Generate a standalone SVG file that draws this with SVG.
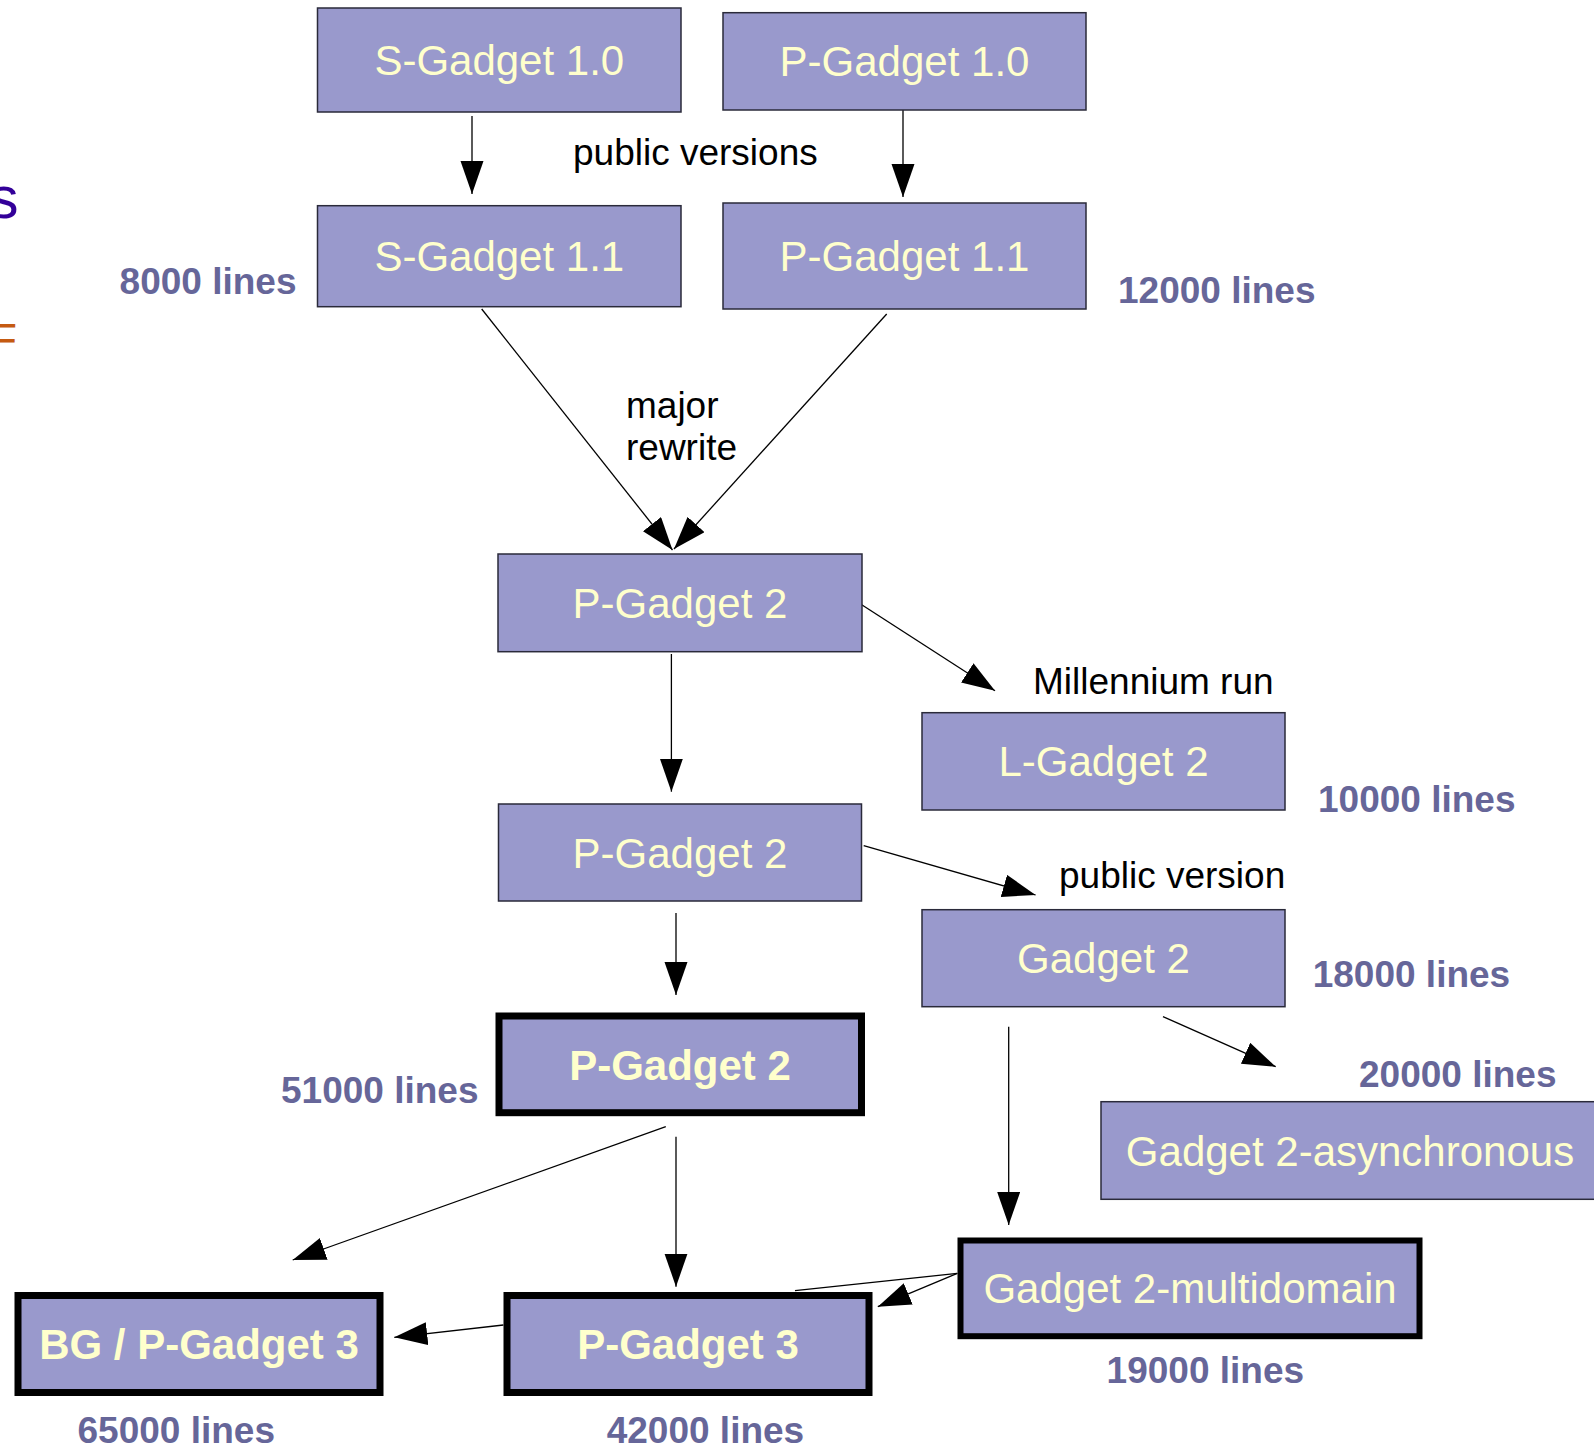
<svg xmlns="http://www.w3.org/2000/svg" width="1594" height="1447" viewBox="0 0 1594 1447">
<style>
text{font-family:"Liberation Sans",Arial,sans-serif}
.box{fill:#9999cc;stroke:#2a2a3a;stroke-width:1.5}
.thick{fill:#9999cc;stroke:#000;stroke-width:7}
.lbl{fill:#ffffcc;font-size:42px;text-anchor:middle}
.blbl{fill:#ffffcc;font-size:42px;font-weight:bold;text-anchor:middle}
.cnt{fill:#666699;font-size:37px;font-weight:bold}
.note{fill:#000;font-size:37px}
.con line{stroke:#000;stroke-width:1.3;fill:none}
.arr{marker-end:url(#ah)}
</style>
<defs>
<marker id="ah" markerUnits="userSpaceOnUse" markerWidth="34" markerHeight="24" refX="33" refY="11.5" orient="auto" viewBox="0 0 34 24">
<path d="M0,0 L33,11.5 L0,23 z" fill="#000"/>
</marker>
</defs>
<g id="title-fragments">
<text x="-11" y="218" style="font-size:59px;fill:#330099">s</text>
<text x="-10.4" y="355" style="font-size:45px;fill:#c55a11">F</text>
</g>
<g class="con" id="connectors">
<line class="arr" x1="472" y1="116" x2="472" y2="194"/>
<line class="arr" x1="903" y1="110" x2="903" y2="197"/>
<line class="arr" x1="481.7" y1="309" x2="672.5" y2="550"/>
<line class="arr" x1="886.7" y1="314" x2="674" y2="549"/>
<line class="arr" x1="859" y1="603" x2="995" y2="690.7"/>
<line class="arr" x1="671.4" y1="654" x2="671.4" y2="791.7"/>
<line class="arr" x1="863.7" y1="845.7" x2="1035.6" y2="895"/>
<line class="arr" x1="676" y1="913" x2="676" y2="995"/>
<line class="arr" x1="1163" y1="1016.7" x2="1275.7" y2="1066.7"/>
<line class="arr" x1="1008.7" y1="1026.7" x2="1008.7" y2="1225"/>
<line class="arr" x1="665.8" y1="1126.7" x2="292.7" y2="1260"/>
<line class="arr" x1="676" y1="1136.7" x2="676" y2="1286.7"/>
<line class="arr" x1="503.4" y1="1325" x2="394.3" y2="1337.3"/>
<line x1="957.3" y1="1273.3" x2="795" y2="1290.7"/>
<line class="arr" x1="957.3" y1="1273.3" x2="877.8" y2="1306.7"/>
</g>
<g id="s-gadget-10"><rect class="box" x="317.5" y="8" width="363.5" height="104"/><text class="lbl" x="499.3" y="75">S-Gadget 1.0</text></g>
<g id="p-gadget-10"><rect class="box" x="723" y="12.7" width="363" height="97.3"/><text class="lbl" x="904.5" y="76">P-Gadget 1.0</text></g>
<g id="s-gadget-11"><rect class="box" x="317.5" y="205.7" width="363.5" height="101"/><text class="lbl" x="499.3" y="271">S-Gadget 1.1</text></g>
<g id="p-gadget-11"><rect class="box" x="723" y="203" width="363" height="106"/><text class="lbl" x="904.5" y="271">P-Gadget 1.1</text></g>
<g id="p-gadget-2a"><rect class="box" x="498" y="554" width="364" height="97.7"/><text class="lbl" x="680" y="617.5">P-Gadget 2</text></g>
<g id="l-gadget-2"><rect class="box" x="922" y="712.7" width="363" height="97.3"/><text class="lbl" x="1103.5" y="776">L-Gadget 2</text></g>
<g id="p-gadget-2b"><rect class="box" x="498.5" y="804" width="363" height="97"/><text class="lbl" x="680" y="867.5">P-Gadget 2</text></g>
<g id="gadget-2"><rect class="box" x="922" y="909.7" width="363" height="97"/><text class="lbl" x="1103.5" y="973">Gadget 2</text></g>
<g id="p-gadget-2c"><rect class="thick" x="499" y="1016" width="362.5" height="96.7"/><text class="blbl" x="680" y="1079.5">P-Gadget 2</text></g>
<g id="gadget-2-async"><rect class="box" x="1101" y="1101.7" width="498" height="97.6"/><text class="lbl" x="1350" y="1165.5">Gadget 2-asynchronous</text></g>
<g id="gadget-2-multidomain"><rect class="thick" x="960.5" y="1240.5" width="459" height="95.7" style="stroke-width:6"/><text class="lbl" x="1190" y="1303">Gadget 2-multidomain</text></g>
<g id="bg-p-gadget-3"><rect class="thick" x="18" y="1295.5" width="362" height="97"/><text class="blbl" x="199" y="1359">BG / P-Gadget 3</text></g>
<g id="p-gadget-3"><rect class="thick" x="507" y="1295.5" width="362" height="97"/><text class="blbl" x="688" y="1359">P-Gadget 3</text></g>
<g id="labels">
<text class="note" x="573" y="165">public versions</text>
<text class="note" x="626" y="417.7">major</text>
<text class="note" x="626" y="460">rewrite</text>
<text class="note" x="1033" y="694">Millennium run</text>
<text class="note" x="1059" y="888">public version</text>
<text class="cnt" x="119.6" y="294">8000 lines</text>
<text class="cnt" x="1118" y="303">12000 lines</text>
<text class="cnt" x="1318" y="811.5">10000 lines</text>
<text class="cnt" x="1312.7" y="987">18000 lines</text>
<text class="cnt" x="1359" y="1087">20000 lines</text>
<text class="cnt" x="281" y="1103">51000 lines</text>
<text class="cnt" x="1106.6" y="1383">19000 lines</text>
<text class="cnt" x="77.5" y="1443">65000 lines</text>
<text class="cnt" x="606.7" y="1443">42000 lines</text>
</g>
</svg>
